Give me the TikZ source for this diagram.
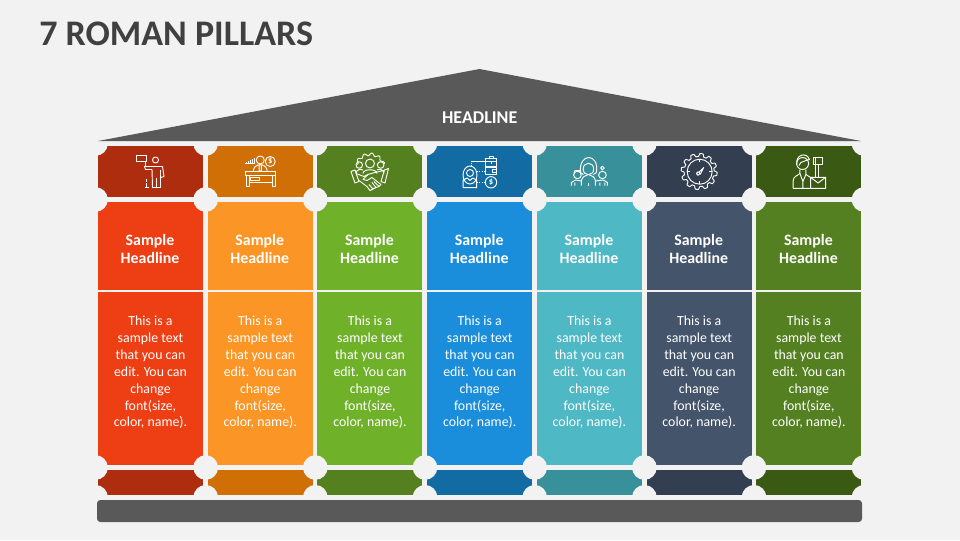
\documentclass[tikz,border=0pt]{standalone}
\usepackage{fontspec}
\setmainfont{Carlito}
\usetikzlibrary{shapes.geometric}
\definecolor{pagebg}{HTML}{F2F2F2}
\definecolor{roofgray}{HTML}{595959}
\definecolor{titlegray}{HTML}{404040}
\definecolor{capred}{HTML}{AF2D0F}
\definecolor{caporange}{HTML}{CF6F06}
\definecolor{capgreen}{HTML}{55801F}
\definecolor{capblue}{HTML}{126CA3}
\definecolor{capteal}{HTML}{38909A}
\definecolor{capslate}{HTML}{333F50}
\definecolor{capmoss}{HTML}{3A5A14}
\definecolor{bodyred}{HTML}{EE3E14}
\definecolor{bodyorange}{HTML}{FB9526}
\definecolor{bodygreen}{HTML}{70B12A}
\definecolor{bodyblue}{HTML}{1A8DDB}
\definecolor{bodyteal}{HTML}{4EB8C4}
\definecolor{bodyslate}{HTML}{44546A}
\definecolor{bodymoss}{HTML}{548022}
\tikzstyle{capbox} = [rectangle, inner sep=0pt, minimum width=78.75pt, minimum height=38.25pt]
\tikzstyle{footbox} = [rectangle, inner sep=0pt, minimum width=78.75pt, minimum height=18.75pt]
\tikzstyle{headbox} = [rectangle, inner sep=0pt, minimum width=78.75pt, minimum height=66pt]
\tikzstyle{headtext} = [inner sep=0pt, text=white, align=center, font=\fontsize{11.9}{14.2}\selectfont\bfseries]
\tikzstyle{bodybox} = [rectangle, inner sep=0pt, minimum width=78.75pt, minimum height=129.75pt]
\tikzstyle{bodytext} = [inner sep=0pt, text=white, align=center, font=\fontsize{10.4}{12.7}\selectfont]
\tikzstyle{notch} = [circle, inner sep=0pt, minimum size=18.5pt, fill=pagebg]
\tikzstyle{icon} = [draw=white, line width=0.7pt, line join=round]
\tikzstyle{dollar} = [inner sep=0pt, text=white, font=\fontsize{6.5}{7}\selectfont\bfseries]
\newcommand{\sampletext}{This is a\\sample text\\that you can\\edit. You can\\change\\font(size,\\color, name).}
\newcommand{\samplehead}{Sample\\Headline}
\begin{document}
\begin{tikzpicture}[x=0.75pt, y=-0.75pt, node distance=82.3pt]
      \fill [pagebg] (0,0) rectangle (960,540);
      \useasboundingbox (0,0) rectangle (960,540);

      \node (title) [anchor=west, inner sep=0pt, text=titlegray, font=\fontsize{27}{30}\selectfont\bfseries] at (39,34) {7 ROMAN PILLARS};

      % top caps
      \node (capa) [capbox, fill=capred] at (150.5,171.5) {};
      \node (capb) [capbox, fill=caporange, right of=capa] {};
      \node (capc) [capbox, fill=capgreen, right of=capb] {};
      \node (capd) [capbox, fill=capblue, right of=capc] {};
      \node (cape) [capbox, fill=capteal, right of=capd] {};
      \node (capf) [capbox, fill=capslate, right of=cape] {};
      \node (capg) [capbox, fill=capmoss, right of=capf] {};

      % headlines
      \node (heada) [headbox, fill=bodyred] at (150.5,246) {};
      \node (headb) [headbox, fill=bodyorange, right of=heada] {};
      \node (headc) [headbox, fill=bodygreen, right of=headb] {};
      \node (headd) [headbox, fill=bodyblue, right of=headc] {};
      \node (heade) [headbox, fill=bodyteal, right of=headd] {};
      \node (headf) [headbox, fill=bodyslate, right of=heade] {};
      \node (headg) [headbox, fill=bodymoss, right of=headf] {};

      \node (titlea) [headtext] at (150,249) {\samplehead};
      \node (titleb) [headtext, right of=titlea] {\samplehead};
      \node (titlec) [headtext, right of=titleb] {\samplehead};
      \node (titled) [headtext, right of=titlec] {\samplehead};
      \node (titlee) [headtext, right of=titled] {\samplehead};
      \node (titlef) [headtext, right of=titlee] {\samplehead};
      \node (titleg) [headtext, right of=titlef] {\samplehead};

      % shafts
      \node (bodya) [bodybox, fill=bodyred] at (150.5,378.5) {};
      \node (bodyb) [bodybox, fill=bodyorange, right of=bodya] {};
      \node (bodyc) [bodybox, fill=bodygreen, right of=bodyb] {};
      \node (bodyd) [bodybox, fill=bodyblue, right of=bodyc] {};
      \node (bodye) [bodybox, fill=bodyteal, right of=bodyd] {};
      \node (bodyf) [bodybox, fill=bodyslate, right of=bodye] {};
      \node (bodyg) [bodybox, fill=bodymoss, right of=bodyf] {};

      \node (texta) [bodytext] at (150.5,372.3) {\sampletext};
      \node (textb) [bodytext, right of=texta] {\sampletext};
      \node (textc) [bodytext, right of=textb] {\sampletext};
      \node (textd) [bodytext, right of=textc] {\sampletext};
      \node (texte) [bodytext, right of=textd] {\sampletext};
      \node (textf) [bodytext, right of=texte] {\sampletext};
      \node (textg) [bodytext, right of=textf] {\sampletext};

      % feet
      \node (foota) [footbox, fill=capred] at (150.5,482.5) {};
      \node (footb) [footbox, fill=caporange, right of=foota] {};
      \node (footc) [footbox, fill=capgreen, right of=footb] {};
      \node (footd) [footbox, fill=capblue, right of=footc] {};
      \node (foote) [footbox, fill=capteal, right of=footd] {};
      \node (footf) [footbox, fill=capslate, right of=foote] {};
      \node (footg) [footbox, fill=capmoss, right of=footf] {};

      % round cut-outs
      \foreach \px in {95.5,205.7,315.3,425,534.7,644.4,754,864}
        \foreach \py in {143.5,199.5,467.5,497.3}
          \node [notch] at (\px,\py) {};

      % roof and base
      \fill [roofgray] (98,141) -- (479.5,69) -- (861,141) -- cycle;
      \node (roof) [inner sep=0pt, text=white, font=\fontsize{13.5}{16}\selectfont\bfseries] at (479.7,117.5) {HEADLINE};
      \node (base) [rectangle, rounded corners=2.5pt, inner sep=0pt, minimum width=573.75pt, minimum height=16.5pt, fill=roofgray] at (479.5,511) {};

      % flag
      \begin{scope}[shift={(capa.center)}]
      \draw [icon] (-14,-16) rectangle (-4,-10) (-5.5,-10) -- (-5.5,-5);
      \draw [icon] (5,-11.5) circle (3);
      \draw [icon] (-6,-5) -- (12,-5) -- (13.5,5) -- (10,6) -- (10,16) -- (2,16) -- (1.5,-2) -- (-5,-2) -- cycle;
      \draw [icon] (5.5,6) -- (5.5,16) (10,-2) -- (10,6) (-4,7) -- (-4,10) (-4,11.5) -- (-4,16) (-6,16) -- (-1.5,16);
      \end{scope}

      % desk
      \begin{scope}[shift={(capb.center)}]
      \draw [icon] (-15,0) rectangle (15.5,3.5) (-14,3.5) -- (-14,15) -- (-11,15) -- (-11,3.5);
      \draw [icon] (12,3.5) -- (12,15) -- (15,15) -- (15,3.5) (-11,11) -- (12,11);
      \draw [icon] (-10,5.5) rectangle (-0.5,8.5);
      \draw [icon] (0,-11.5) circle (4) (-7,0) .. controls (-7,-9) and (7,-9) .. (7,0);
      \draw [icon] (-1,-7) -- (-1.2,-1) -- (0,0) -- (1.2,-1) -- (1,-7);
      \draw [icon] (10,-10) circle (5);
      \node (usdb) [dollar] at (10,-10) {\$};
      \draw [icon] (-15,-8) -- (-5,-8) (-14,-8) -- (-14,-10) (-12,-8) -- (-12,-11) (-10,-8) -- (-10,-12) (-8,-8) -- (-8,-13) (-6,-8) -- (-6,-14);
      \end{scope}

      % team and handshake
      \begin{scope}[shift={(capc.center)}]
      \draw [icon, shift={(0,-3)}] plot [domain=198:342, samples=97] ({(14.2+1.3*sin(12*\x))*cos(\x)},{(14.2+1.3*sin(12*\x))*sin(\x)});
      \draw [icon] (0,-8) circle (4.5) (-10.7,-6.5) circle (3.3) (10.7,-6.5) circle (3.3);
      \draw [icon] (-7,2) .. controls (-7,-3) and (7,-3) .. (7,2) (-14,2) .. controls (-14,-2) and (-9,-3) .. (-7,-1.5) (14,2) .. controls (14,-2) and (9,-3) .. (7,-1.5);
      \draw [icon] (-19,0) -- (-15,-1.5) -- (-11,10) -- (-15,11.5) -- cycle;
      \draw [icon] (18.5,-3) -- (14.5,-1.5) -- (11,10) -- (15,11.5) -- cycle;
      \draw [icon] (-14,2) -- (-6,5) -- (-2,3) -- (3,1.5) -- (14,-1);
      \draw [icon] (-2,3) -- (-7,8) -- (-3,9) -- (2,6) -- (11,13) -- (9,15) -- (4,10);
      \draw [icon] (-11,9) -- (-3,15) -- (0,19) -- (3,17.5) -- (-1,13) (3,17.5) -- (6,16) -- (2,11) (6,16) -- (9,15);
      \end{scope}

      % portfolio
      \begin{scope}[shift={(capd.center)}]
      \draw [icon] (6,-13.5) rectangle (17,-5.5) (6,-10.5) -- (17,-10.5) (9.5,-13.5) -- (9.5,-15) -- (13.5,-15) -- (13.5,-13.5) (11.5,-10.5) -- (11.5,-8);
      \draw [icon] (6,-4.2) rectangle (17,2.5) (17,-2.5) -- (13,-2.5) -- (13,0.5) -- (17,0.5);
      \draw [icon] (11.3,10.8) circle (5.7);
      \node (usdd) [dollar] at (11.3,10.8) {\$};
      \draw [icon] (-9.7,3.5) ellipse (7 and 9);
      \draw [icon] (-9.7,1.5) circle (3.5);
      \draw [icon] (-16.5,16.2) -- (-16.5,8.5) -- (-12.5,6.5) -- (-9.7,9) -- (-7,6.5) -- (-3,8.5) -- (-3,16.2) -- cycle;
      \draw [icon, densely dotted] (-8,-5.5) -- (-8,-10.5);
      \draw [icon] (-8,-10.5) -- (6,-10.5);
      \draw [icon, densely dotted] (-2.5,-0.5) -- (6,-0.5) (-2.5,10.8) -- (5.5,10.8);
      \end{scope}

      % three people
      \begin{scope}[shift={(cape.center)}]
      \draw [icon] (-9,1) .. controls (-11,-19) and (10,-19) .. (7,1) (-9,1) -- (-6,3) (7,1) -- (4,3);
      \draw [icon] (-1,-2.5) ellipse (5.3 and 5.8);
      \draw [icon] (-8,14) -- (-8,9) .. controls (-7,5) and (-4,4) .. (-2,3.5) (6,14) -- (6,9) .. controls (5,5) and (2,4) .. (0,3.5);
      \draw [icon] (-12,3.5) circle (3.8) (-15.5,2) -- (-14.5,-1) -- (-9.5,-1) -- (-8.5,2);
      \draw [icon] (13,3.5) circle (3.8) (13,-3.5) circle (1.8);
      \draw [icon] (-18,14) -- (-18,11) -- (-14,8.5) -- (-8,9.5) (18,14) -- (18,11) -- (14,8.5) -- (6,9.5) (-14.5,14) -- (-14.5,11) (10.5,14) -- (10.5,11) (15.5,14) -- (15.5,11);
      \draw [icon] (-1,11) -- (-1,14);
      \end{scope}

      % gauge
      \begin{scope}[shift={(capf.center)}]
      \draw [icon] plot [domain=0:360, samples=361] ({(16.5+1.5*max(min(2*sin(12*\x),1),-1))*cos(\x)},{(16.5+1.5*max(min(2*sin(12*\x),1),-1))*sin(\x)}) -- cycle;
      \draw [icon] (0.5,0.2) circle (12.5);
      \draw [icon] (0.5,-12.3) -- (0.5,-9.5) (0.5,12.7) -- (0.5,9.5) (-12,0.2) -- (-9,0.2) (13,0.2) -- (10,0.2);
      \draw [icon] (-1,2) circle (1.8) (0,0.5) -- (4.5,-4) -- (1,3);
      \end{scope}

      % clerk with envelope
      \begin{scope}[shift={(capg.center)}]
      \draw [icon] (-6.3,-8) circle (6);
      \draw [icon] (-12,-7) .. controls (-14,-17) and (-2,-20) .. (0.5,-12) -- (-3,-11) -- (-8,-9) -- (-10,-6);
      \draw [icon] (-15.7,16.8) -- (-15.7,9) .. controls (-15.7,5) and (-11,4) .. (-9,2) -- (-9,-2) (-3,-2) -- (-3,3) -- (1.7,6);
      \draw [icon] (-15.7,16.8) -- (1.7,16.8) (-9,2) -- (-6,10) -- (-3,3) (-6,10) -- (-6,16.8);
      \draw [icon] (1.7,5.8) rectangle (16.7,16.8) (1.7,5.8) -- (9.2,11.5) -- (16.7,5.8);
      \draw [icon] (6.5,-7.5) -- (6.5,5.8) (10,-7.5) -- (10,5.8);
      \draw [icon] (4.3,-14.2) rectangle (13.3,-7.5) (6.5,-14.2) -- (6.5,-7.5);
      \end{scope}
\end{tikzpicture}
\end{document}
